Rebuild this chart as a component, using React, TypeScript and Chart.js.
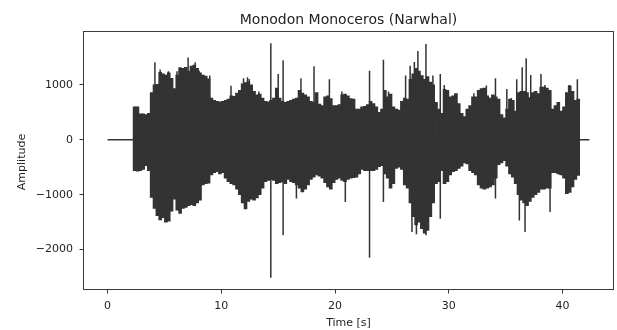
import React, { useEffect, useRef } from "react";
import { Chart, registerables } from "chart.js";

Chart.register(...registerables);

// ---- text ----
const TITLE = "Monodon Monoceros (Narwhal)";
const X_LABEL = "Time [s]";
const Y_LABEL = "Amplitude";

// ---- tick values ----
const X_TICKS = [0, 10, 20, 30, 40];
const Y_TICKS = [-2000, -1000, 0, 1000];

// ---- recording extent (seconds) ----
const RECORD_START = 0;
const RECORD_END = 42.36;

// ---- amplitude envelope, 0.25 s bins starting at 2.25 s ----
const BIN_START = 2.25;
const BIN_WIDTH = 0.25;

const upperEnvelope = [
  600, 600, 470, 470, 460, 480, 860, 1000, 1010, 1230,
  1200, 1180, 1220, 1120, 930, 1180, 1310, 1300, 1320, 1250,
  1340, 1360, 1300, 1220, 1180, 1160, 1110, 760, 720, 700,
  690, 700, 720, 740, 800, 790, 850, 900, 1020, 1040,
  1060, 1000, 880, 820, 830, 760, 700, 690, 720, 760,
  940, 760, 700, 680, 700, 720, 740, 760, 900, 850,
  820, 780, 700, 680, 860, 650, 620, 780, 800, 750,
  620, 620, 640, 820, 830, 800, 750, 740, 560, 560,
  600, 610, 640, 700, 660, 600, 500, 560, 900, 780,
  830, 600, 560, 540, 700, 760, 740, 1100, 1200, 1300,
  1250, 1170, 1100, 1150, 1050, 1000, 680, 560, 480, 920,
  900, 780, 800, 840, 660, 480, 420, 560, 620, 780,
  780, 900, 930, 940, 800, 760, 820, 780, 740, 460,
  400, 560, 740, 720, 520, 860, 880, 880, 860, 770,
  860, 880, 840, 960, 960, 940, 900, 560, 620, 680,
  520, 600, 860, 980, 880, 720, 740,
];

const lowerEnvelope = [
  -560, -570, -560, -540, -470, -560, -1050, -1250, -1380, -1460,
  -1420, -1500, -1480, -1300, -1080, -1280, -1340, -1250, -1230, -1200,
  -1180, -1200, -1150, -1100, -820, -800, -790, -640, -600, -580,
  -620, -600, -700, -760, -800, -820, -900, -1000, -1150, -1260,
  -1120, -1080, -1100, -1060, -1000, -880, -760, -740, -720, -740,
  -800, -780, -760, -800, -720, -760, -780, -820, -880, -950,
  -900, -820, -720, -680, -640, -660, -700, -780, -860, -900,
  -780, -720, -700, -740, -760, -720, -700, -690, -680, -620,
  -540, -560, -560, -560, -560, -540, -490, -470, -620, -700,
  -880, -800, -520, -500, -540, -820, -880, -1150, -1400, -1550,
  -1500, -1620, -1700, -1650, -1400, -1150, -800, -760, -560, -800,
  -760, -640, -580, -560, -520, -480, -420, -440, -560, -600,
  -640, -820, -880, -900, -880, -860, -820, -700, -450, -420,
  -380, -480, -620, -680, -800, -1000, -1100, -1150, -1200, -1120,
  -1050, -1000, -960, -900, -900, -880, -880, -600, -600, -620,
  -640, -700, -980, -960, -860, -720, -650,
];

// ---- isolated clicks that stand out from the envelope ----
const spikeTimes = [
  4.16, 4.62, 5.35, 6.1, 6.39, 7.08, 7.7, 8.05, 8.98, 10.85,
  11.95, 12.3, 12.45, 13.3, 14.35, 15.0, 15.43, 16.6, 17.0, 18.15,
  19.5, 20.6, 20.9, 23.03, 24.25, 24.7, 26.2, 26.6, 26.76, 26.97,
  27.15, 27.28, 27.99, 28.6, 29.25, 29.6, 32.2, 33.3, 34.1, 35.1,
  35.5, 35.97, 36.2, 36.45, 36.7, 36.8, 37.2, 38.1, 38.45, 38.9,
  40.6, 41.3,
];
const spikeHigh = [
  1411, 1280, 1250, 1250, 1320, 1500, 1411, 1260, 1170, 985,
  1120, 1140, 1110, 880, 1760, 1200, 1450, 0, 1120, 1340,
  1105, 880, 0, 1260, 1460, 880, 1170, 1350, 0, 1420,
  0, 1620, 1745, 1170, 1200, 1000, 850, 990, 1120, 925,
  760, 1105, 0, 1320, 0, 1485, 1180, 1200, 1000, 0,
  1000, 1105,
];
const spikeLow = [
  0, 0, 0, 0, 0, 0, 0, 0, 0, 0,
  0, 0, 0, 0, -2515, 0, -1740, -1070, 0, 0,
  0, 0, -1135, -2150, -1135, 0, 0, 0, -1680, 0,
  -1720, 0, -1740, 0, -1440, 0, 0, 0, -1070, 0,
  0, 0, -1470, 0, -1680, 0, 0, 0, 0, -1315,
  0, 0,
];

// ---- axis ranges (5% margins around the data) ----
const X_MIN = RECORD_START - 0.05 * (RECORD_END - RECORD_START);
const X_MAX = RECORD_END + 0.05 * (RECORD_END - RECORD_START);
const Y_DATA_MIN = -2515;
const Y_DATA_MAX = 1760;
const Y_MIN = Y_DATA_MIN - 0.05 * (Y_DATA_MAX - Y_DATA_MIN);
const Y_MAX = Y_DATA_MAX + 0.05 * (Y_DATA_MAX - Y_DATA_MIN);

// ---- layout ----
const W = 617;
const H = 330;
const PLOT_LEFT = 83.5;
const PLOT_RIGHT = 613.5;
const PLOT_TOP = 31.5;
const PLOT_BOTTOM = 289.5;

const INK = "#333333";
const TEXT = "#1f1f1f";
const FONT = "'DejaVu Sans', sans-serif";

const fmt = (v: number) => (v < 0 ? "\u2212" + Math.abs(v) : String(v));

const decorations = {
  id: "decorations",
  afterDatasetsDraw(chart: any) {
    const { ctx, chartArea } = chart;
    ctx.save();
    // axes frame
    ctx.strokeStyle = "#3a3a3a";
    ctx.lineWidth = 1;
    ctx.strokeRect(
      Math.round(chartArea.left) - 0.5,
      Math.round(chartArea.top) - 0.5,
      Math.round(chartArea.right) - Math.round(chartArea.left),
      Math.round(chartArea.bottom) - Math.round(chartArea.top)
    );
    // title
    const cx = (chartArea.left + chartArea.right) / 2;
    ctx.fillStyle = TEXT;
    ctx.textAlign = "center";
    ctx.textBaseline = "alphabetic";
    ctx.font = `14px ${FONT}`;
    ctx.fillText(TITLE, cx, 24);
    // axis labels
    ctx.font = `11px ${FONT}`;
    ctx.fillText(X_LABEL, cx, 325.5);
    ctx.translate(24.5, (chartArea.top + chartArea.bottom) / 2 + 1.5);
    ctx.rotate(-Math.PI / 2);
    ctx.fillText(Y_LABEL, 0, 0);
    ctx.restore();
  },
};

export default function App() {
  const canvasRef = useRef<HTMLCanvasElement | null>(null);

  useEffect(() => {
    const canvas = canvasRef.current;
    if (!canvas) return;

    const pxPerSec = (PLOT_RIGHT - PLOT_LEFT) / (X_MAX - X_MIN);

    const envelope = upperEnvelope.map((u, i) => ({
      x: BIN_START + BIN_WIDTH * (i + 0.5),
      y: [lowerEnvelope[i], u],
    }));
    const spikes = spikeTimes.map((t, i) => ({ x: t, y: [spikeLow[i], spikeHigh[i]] }));
    const silence = [
      { x: RECORD_START, y: 0 },
      { x: RECORD_END, y: 0 },
    ];

    const chart = new Chart(canvas, {
      type: "bar",
      data: {
        datasets: [
          {
            type: "line",
            data: silence,
            borderColor: INK,
            borderWidth: 1.5,
            pointRadius: 0,
            order: 3,
          } as any,
          {
            type: "bar",
            data: envelope as any,
            backgroundColor: INK,
            borderWidth: 0,
            grouped: false,
            barThickness: BIN_WIDTH * pxPerSec,
            inflateAmount: 0.4,
            order: 2,
          } as any,
          {
            type: "bar",
            data: spikes as any,
            backgroundColor: INK,
            borderWidth: 0,
            grouped: false,
            barThickness: 1.5,
            inflateAmount: 0,
            order: 1,
          } as any,
        ],
      },
      options: {
        animation: false,
        responsive: false,
        devicePixelRatio: 1,
        layout: {
          padding: { left: 0, right: W - PLOT_RIGHT, top: PLOT_TOP, bottom: 0 },
        },
        plugins: {
          legend: { display: false },
          tooltip: { enabled: false },
          title: { display: false },
        },
        scales: {
          x: {
            type: "linear",
            min: X_MIN,
            max: X_MAX,
            offset: false,
            afterFit: (s: any) => {
              s.height = H - PLOT_BOTTOM;
            },
            afterBuildTicks: (s: any) => {
              s.ticks = X_TICKS.map((v) => ({ value: v }));
            },
            grid: {
              offset: false,
              drawOnChartArea: false,
              drawTicks: true,
              tickLength: 4,
              tickColor: INK,
              tickWidth: 1,
            },
            border: { display: false },
            ticks: {
              autoSkip: false,
              maxRotation: 0,
              padding: 6,
              color: TEXT,
              font: { family: FONT, size: 11 },
              callback: (v: any) => fmt(Number(v)),
            },
          },
          y: {
            type: "linear",
            min: Y_MIN,
            max: Y_MAX,
            afterFit: (s: any) => {
              s.width = PLOT_LEFT;
            },
            afterBuildTicks: (s: any) => {
              s.ticks = Y_TICKS.map((v) => ({ value: v }));
            },
            grid: {
              drawOnChartArea: false,
              drawTicks: true,
              tickLength: 4,
              tickColor: INK,
              tickWidth: 1,
            },
            border: { display: false },
            ticks: {
              autoSkip: false,
              padding: 6.5,
              color: TEXT,
              font: { family: FONT, size: 11 },
              callback: (v: any) => fmt(Number(v)),
            },
          },
        },
      },
      plugins: [decorations],
    });

    return () => chart.destroy();
  }, []);

  return (
    <div style={{ position: "absolute", left: 0, top: 0, width: W, height: H, background: "#fff" }}>
      <canvas ref={canvasRef} width={W} height={H} style={{ display: "block", width: W, height: H }} />
    </div>
  );
}
